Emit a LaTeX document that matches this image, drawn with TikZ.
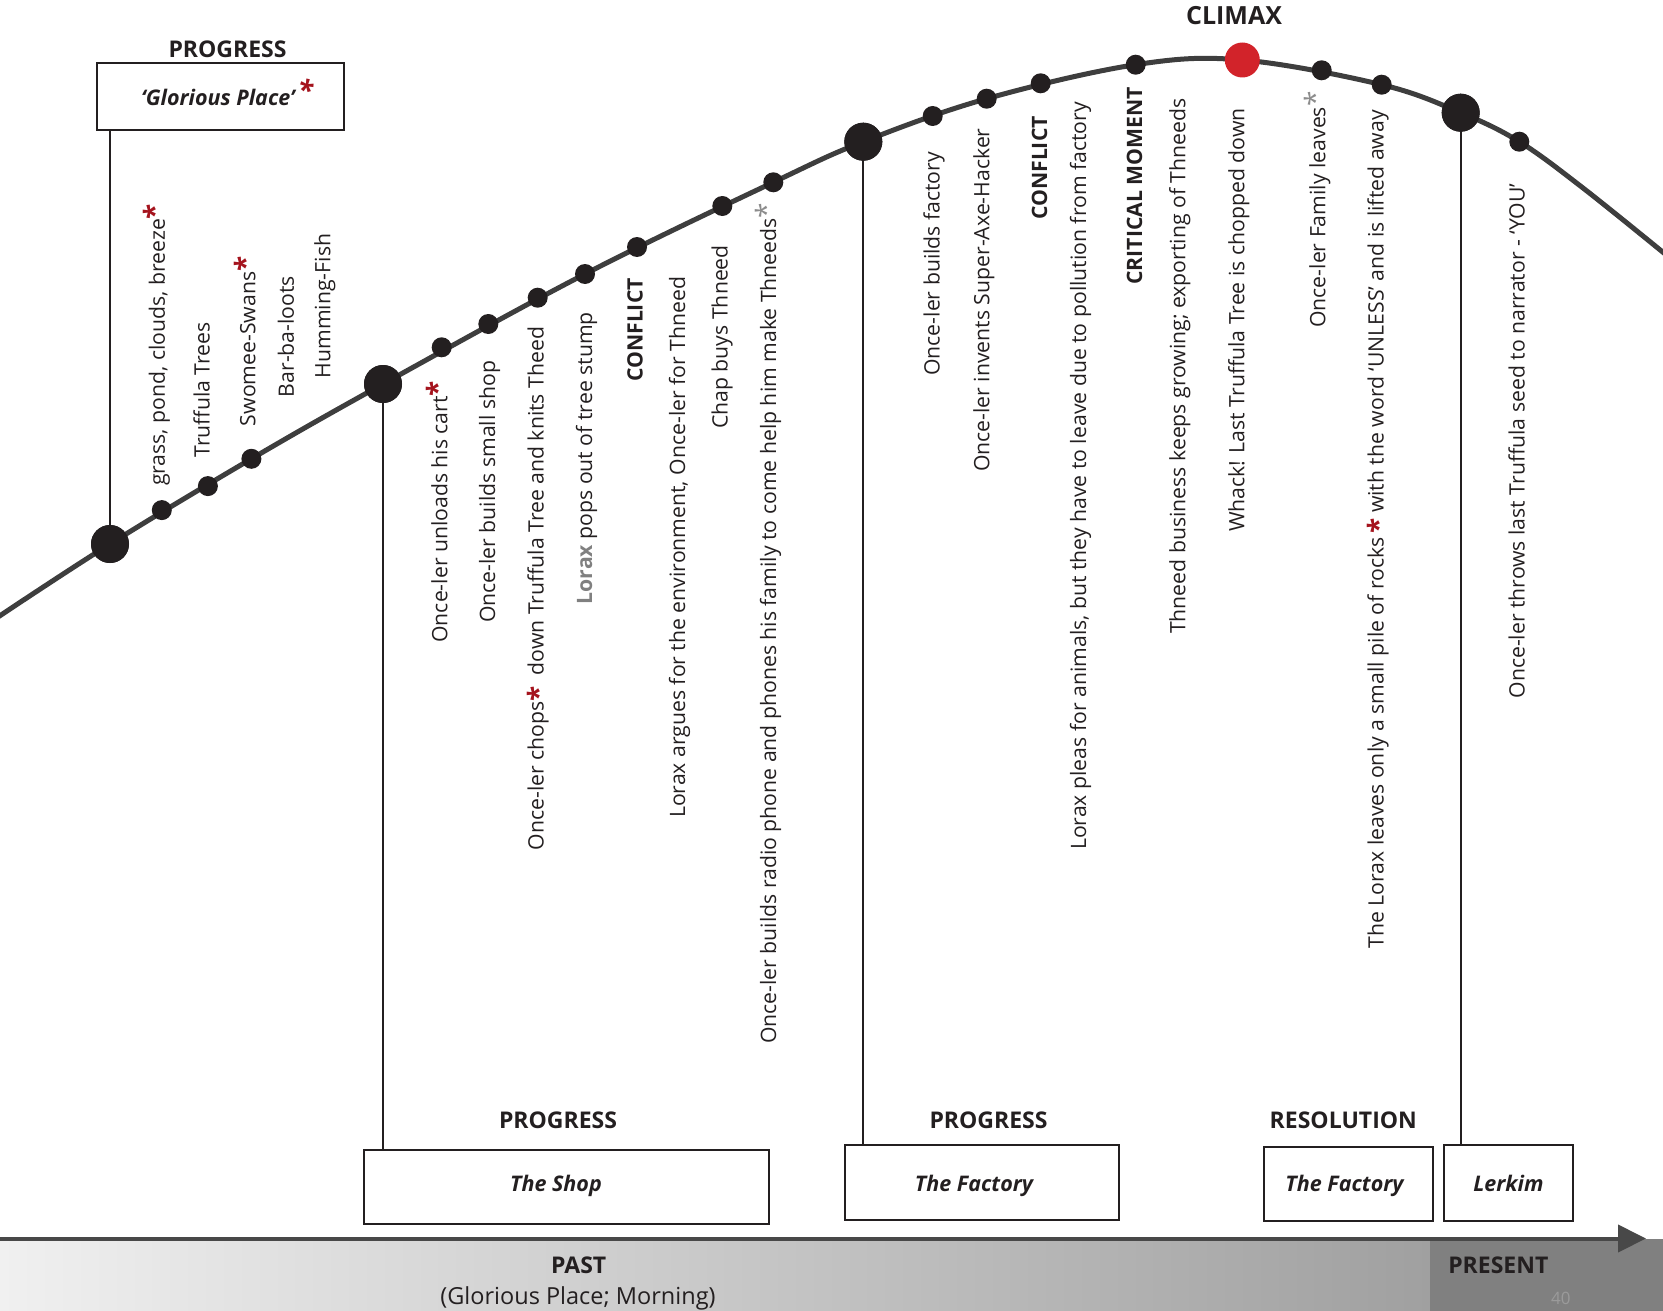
\documentclass[tikz,border=0pt]{standalone}
\usepackage{fontspec}
\setmainfont{Open Sans}
\usetikzlibrary{arrows.meta}
\definecolor{ink}{RGB}{35,31,32}
\definecolor{curvec}{RGB}{62,62,62}
\definecolor{climaxred}{RGB}{210,35,42}
\definecolor{astred}{RGB}{165,20,30}
\definecolor{astgray}{RGB}{140,140,140}
\definecolor{loraxgray}{RGB}{128,128,128}
\definecolor{bandL}{RGB}{240,240,240}
\definecolor{bandR}{RGB}{160,160,160}
\definecolor{presentc}{RGB}{128,128,128}
\definecolor{bandline}{RGB}{72,72,72}
\definecolor{pagenum}{RGB}{155,155,155}
\newcommand\astR{\makebox[0pt][l]{\textcolor{astred}{\fontsize{28}{28}\selectfont\bfseries *}}}
\newcommand\astRup{\makebox[0pt][l]{\hspace{3pt}\raisebox{5pt}{\textcolor{astred}{\fontsize{28}{28}\selectfont\bfseries *}}}}
\newcommand\astG{\makebox[0pt][l]{\textcolor{astgray}{\fontsize{28}{28}\selectfont *}}}
\newcommand\astIn{\raisebox{-5pt}{\textcolor{astred}{\fontsize{28}{28}\selectfont\bfseries *}}}
\tikzset{
  dotsmall/.style={circle, fill=ink, inner sep=0pt, minimum size=20pt},
  dotbig/.style={circle, fill=ink, inner sep=0pt, minimum size=38pt},
  dotclimax/.style={circle, fill=climaxred, inner sep=0pt, minimum size=35pt},
  lab/.style={rotate=90, anchor=east, inner sep=0pt, text=ink,
    font=\fontsize{21.2}{25}\selectfont, text height=16pt, text depth=5.3pt},
  head/.style={font=\bfseries\fontsize{23}{27}\selectfont, text=ink, inner sep=0pt},
  scenebox/.style={draw=ink, line width=2pt, fill=white, inner sep=0pt},
  scenetext/.style={font=\bfseries\itshape\fontsize{21.5}{25}\selectfont, text=ink, inner sep=0pt, text height=15.5pt, text depth=5pt},
  stem/.style={draw=ink, line width=2.2pt},
  curve/.style={draw=curvec, line width=5pt, line cap=round}
}
\begin{document}
\begin{tikzpicture}[x=1pt,y=-1pt]
\useasboundingbox (0,0) rectangle (1663,1311);
% bottom band
\shade[left color=bandL, right color=bandR] (0,1239) rectangle (1430,1311);
\fill[presentc] (1430,1239) rectangle (1663,1311);
\coordinate (tl0) at (0,1238.5);
\coordinate (tl1) at (1646,1238.5);
\draw[bandline, line width=4pt, -{Triangle[length=28pt,width=27pt]}] (tl0) -- (tl1);
\node[head] (past) at (578.7,1265) {PAST};
\node[inner sep=0pt, text=ink, font=\fontsize{23.5}{28}\selectfont] (pastsub) at (578,1298) {(Glorious Place; Morning)};
\node[head] (present) at (1498.3,1265) {PRESENT};
\node[inner sep=0pt, text=pagenum, font=\fontsize{17}{20}\selectfont] (pnum) at (1560.8,1298.8) {40};

% curve
\draw[curve] plot[smooth, tension=0.6] coordinates {(-5,619) (110,544) (251.4,458.8) (383,384) (585,274) (773.3,182.3) (863.3,141.7) (986.7,98.7) (1135.7,64.7) (1242.3,60) (1381.7,84.7) (1460.7,112.7) (1519.3,141.7) (1583,188) (1670,258)};

% boxes and headings
\node[head] (h1) at (227.5,49.2) {PROGRESS};
\node[scenebox, minimum width=247pt, minimum height=66.5pt] (gp) at (220,96.4) {};
\node[scenetext] (gpt) at (218,100.3) {‘Glorious Place’\astRup};
\node[head] (h2) at (558,1120) {PROGRESS};
\node[scenebox, minimum width=405pt, minimum height=74pt] (shop) at (566.5,1187) {};
\node[scenetext] (shopt) at (556,1186) {The Shop};
\node[head] (h3) at (988.5,1120) {PROGRESS};
\node[scenebox, minimum width=273.6pt, minimum height=74.3pt] (fac1) at (982.1,1182.6) {};
\node[scenetext] (fac1t) at (974,1186) {The Factory};
\node[head] (h4) at (1343.3,1120) {RESOLUTION};
\node[scenebox, minimum width=169pt, minimum height=74pt] (fac2) at (1348.8,1183.7) {};
\node[scenetext] (fac2t) at (1344.5,1186) {The Factory};
\node[scenebox, minimum width=128.7pt, minimum height=75.7pt] (lerkim) at (1508.4,1182.9) {};
\node[scenetext] (lerkimt) at (1508.4,1186) {Lerkim};
\node[head, font=\bfseries\fontsize{25}{29}\selectfont] (hc) at (1234,16) {CLIMAX};

% dots
\node[dotbig] (b1) at (110,544) {};
\node[dotsmall] (d1) at (161.8,510.1) {};
\node[dotsmall] (d2) at (207.9,486.1) {};
\node[dotsmall] (d3) at (251.4,458.8) {};
\node[dotbig] (b2) at (383,384) {};
\node[dotsmall] (d4) at (441.7,347.3) {};
\node[dotsmall] (d5) at (488.3,324) {};
\node[dotsmall] (d6) at (537.7,297.7) {};
\node[dotsmall] (d7) at (585,274) {};
\node[dotsmall] (d8) at (637,247) {};
\node[dotsmall] (d9) at (722.3,206) {};
\node[dotsmall] (d10) at (773.3,182.3) {};
\node[dotbig] (b3) at (863.3,141.7) {};
\node[dotsmall] (d11) at (932.7,116) {};
\node[dotsmall] (d12) at (986.7,98.7) {};
\node[dotsmall] (d13) at (1040.7,83.3) {};
\node[dotsmall] (d14) at (1135.7,64.7) {};
\node[dotclimax] (climax) at (1242.3,60) {};
\node[dotsmall] (d15) at (1321.7,70.3) {};
\node[dotsmall] (d16) at (1381.7,84.7) {};
\node[dotbig] (b4) at (1460.7,112.7) {};
\node[dotsmall] (d17) at (1519.3,141.7) {};

% stems
\draw[stem] (b1.center) -- (b1.center |- gp.south);
\draw[stem] (b2.center) -- (b2.center |- shop.north);
\draw[stem] (b3.center) -- (b3.center |- fac1.north);
\draw[stem] (b4.center) -- (b4.center |- lerkim.north);
\node[dotbig] at (b1) {};
\node[dotbig] at (b2) {};
\node[dotbig] at (b3) {};
\node[dotbig] at (b4) {};

% labels
\node[lab] (l1) at (159.6,218.9) {grass, pond, clouds, breeze\astR};
\node[lab] (l2) at (204.3,322) {Truffula Trees};
\node[lab] (l3) at (250,271.5) {Swomee-Swans\astR};
\node[lab] (l4) at (288.6,275.7) {Bar-ba-loots};
\node[lab] (l5) at (325,233.6) {Humming-Fish};
\node[lab] (l6) at (442,396) {Once-ler unloads his cart\astR};
\node[lab] (l7) at (489.7,360.7) {Once-ler builds small shop};
\node[lab] (l8) at (538.3,326.7) {Once-ler chops\astIn\ \ down Truffula Tree and knits Theed};
\node[lab] (l9) at (586.7,312) {{\bfseries\color{loraxgray}Lorax} pops out of tree stump};
\node[lab] (l10) at (637.3,278) {\bfseries CONFLICT};
\node[lab] (l11) at (679.7,276.7) {Lorax argues for the environment, Once-ler for Thneed};
\node[lab] (l12) at (722.3,245) {Chap buys Thneed};
\node[lab] (l13) at (770.7,218) {Once-ler builds radio phone and phones his family to come help him make Thneeds\astG};
\node[lab] (l14) at (934.3,151.7) {Once-ler builds factory};
\node[lab] (l15) at (984,128.3) {Once-ler invents Super-Axe-Hacker};
\node[lab] (l16) at (1041.7,116) {\bfseries CONFLICT};
\node[lab] (l17) at (1080.7,101.7) {Lorax pleas for animals, but they have to leave due to pollution from factory};
\node[lab] (l18) at (1136.7,86.7) {\bfseries CRITICAL MOMENT};
\node[lab] (l19) at (1180,98.3) {Thneed business keeps growing; exporting of Thneeds};
\node[lab] (l20) at (1239,108.3) {Whack! Last Truffula Tree is chopped down};
\node[lab] (l21) at (1320,106.7) {Once-ler Family leaves\astG};
\node[lab] (l22) at (1378.3,110) {The Lorax leaves only a small pile of rocks\,\astIn\ with the word ‘UNLESS’ and is lifted away};
\node[lab] (l23) at (1519.3,183.3) {Once-ler throws last Truffula seed to narrator - ‘YOU’};
\end{tikzpicture}
\end{document}
